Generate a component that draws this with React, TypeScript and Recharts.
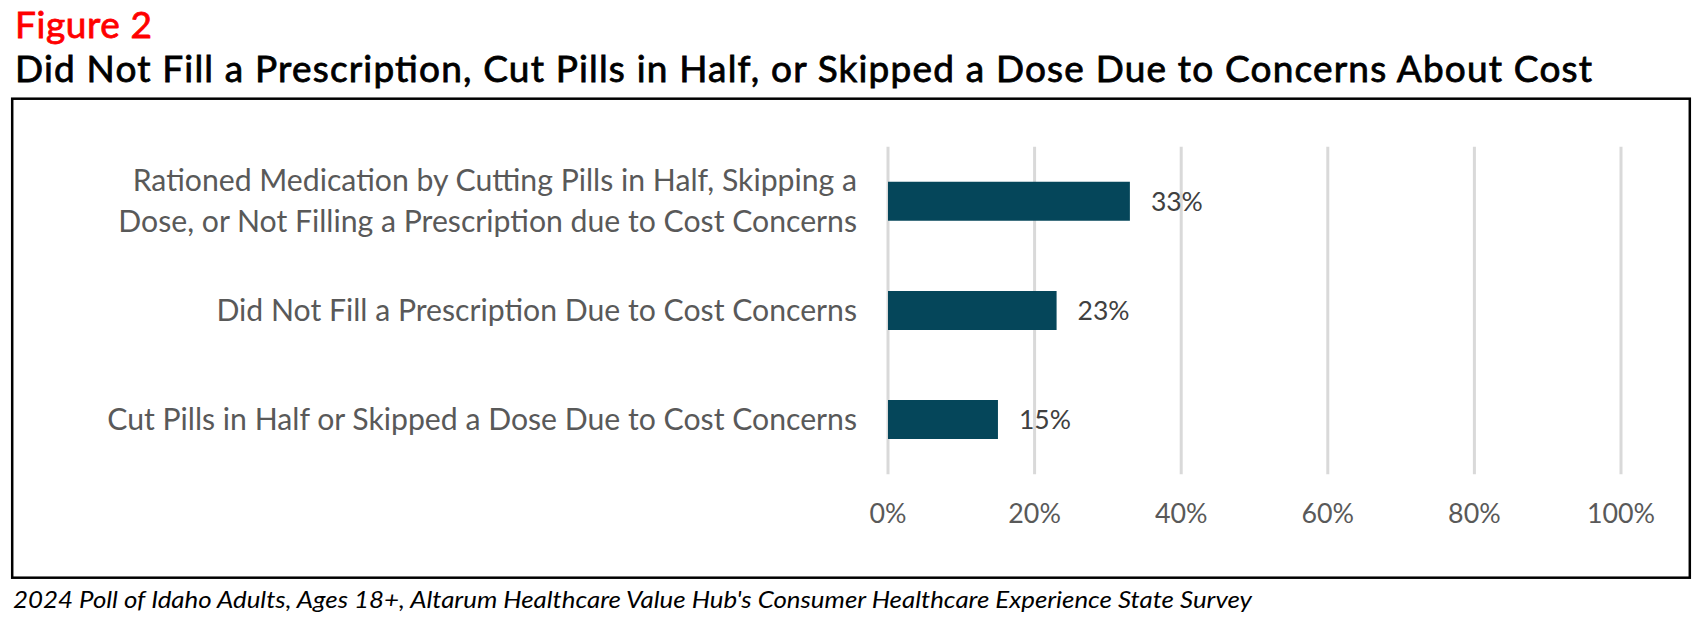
import React from "react";
import { BarChart, Bar, XAxis, YAxis, CartesianGrid, LabelList } from "recharts";

const categories: string[] = [
  "Rationed Medication by Cutting Pills in Half, Skipping a\nDose, or Not Filling a Prescription due to Cost Concerns",
  "Did Not Fill a Prescription Due to Cost Concerns",
  "Cut Pills in Half or Skipped a Dose Due to Cost Concerns",
];
const values: number[] = [33, 23, 15];
const xTicks: number[] = [0, 20, 40, 60, 80, 100];

const figureLabel = "Figure 2";
const titleText =
  "Did Not Fill a Prescription, Cut Pills in Half, or Skipped a Dose Due to Concerns About Cost";
const footerText =
  "2024 Poll of Idaho Adults, Ages 18+, Altarum Healthcare Value Hub's Consumer Healthcare Experience State Survey";

const data = categories.map((c, i) => ({ name: c, value: values[i] }));

const FONT = "Lato, 'Open Sans', sans-serif";

const CategoryTick = (props: any) => {
  const { x, y, payload } = props;
  const lines: string[] = String(payload.value).split("\n");
  const gap = 41.6;
  const base = y + 10 - ((lines.length - 1) * gap) / 2;
  return (
    <g>
      {lines.map((l, i) => (
        <text
          key={i}
          x={x - 31}
          y={base + i * gap}
          textAnchor="end"
          fill="#595959"
          fontSize={30.2}
          fontFamily={FONT}
        >
          {l}
        </text>
      ))}
    </g>
  );
};

const ValueTick = (props: any) => {
  const { x, y, payload } = props;
  return (
    <text
      x={x}
      y={y + 49}
      textAnchor="middle"
      fill="#595959"
      fontSize={26.8}
      fontFamily={FONT}
    >
      {payload.value + "%"}
    </text>
  );
};

export default function App() {
  return (
    <div
      style={{
        position: "absolute",
        left: 0,
        top: 0,
        width: 1706,
        height: 621,
        background: "#fff",
        overflow: "hidden",
      }}
    >
      <svg
        width={1706}
        height={621}
        style={{ position: "absolute", left: 0, top: 0 }}
      >
        <text
          x={15}
          y={37.7}
          fill="#FF0000"
          stroke="#FF0000"
          strokeWidth={0.8}
          fontSize={37}
          fontFamily={FONT}
          textLength={137}
          lengthAdjust="spacing"
        >
          {figureLabel}
        </text>
        <text
          x={15}
          y={81.7}
          fill="#000"
          stroke="#000"
          strokeWidth={0.8}
          fontSize={37}
          fontFamily={FONT}
          textLength={1577}
          lengthAdjust="spacing"
        >
          {titleText}
        </text>
        <rect
          x={12.2}
          y={98.7}
          width={1677.6}
          height={479}
          fill="none"
          stroke="#000"
          strokeWidth={2.5}
        />
        <text
          x={13}
          y={608}
          fill="#000"
          fontSize={24}
          fontStyle="italic"
          fontFamily={FONT}
          textLength={1239}
          lengthAdjust="spacingAndGlyphs"
        >
          {footerText}
        </text>
      </svg>
      <div style={{ position: "absolute", left: 0, top: 0 }}>
        <BarChart
          width={1706}
          height={621}
          data={data}
          layout="vertical"
          margin={{ top: 146.7, right: 85, bottom: 106.7, left: 0 }}
          barCategoryGap={0}
        >
          <CartesianGrid
            horizontal={false}
            vertical={true}
            stroke="#D9D9D9"
            strokeWidth={3}
          />
          <XAxis
            type="number"
            domain={[0, 100]}
            ticks={xTicks}
            axisLine={false}
            tickLine={false}
            tickSize={0}
            tickMargin={0}
            height={40}
            tick={<ValueTick />}
            interval={0}
          />
          <YAxis
            type="category"
            dataKey="name"
            width={888}
            axisLine={false}
            tickLine={false}
            tickSize={0}
            tickMargin={0}
            tick={<CategoryTick />}
            interval={0}
          />
          <Bar
            dataKey="value"
            fill="#05465A"
            barSize={39}
            isAnimationActive={false}
          >
            <LabelList
              dataKey="value"
              position="right"
              offset={21}
              formatter={(v: any) => v + "%"}
              fill="#404040"
              fontSize={26.5}
              fontFamily={FONT}
            />
          </Bar>
        </BarChart>
      </div>
    </div>
  );
}
